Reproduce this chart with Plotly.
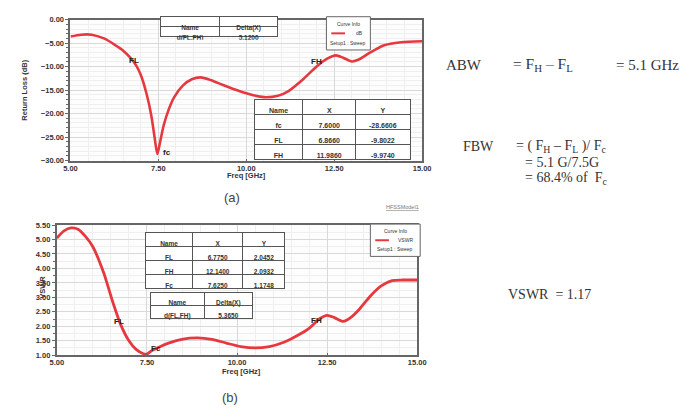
import plotly.graph_objects as go

W, H = 690, 414

# ---------------- data ----------------
rl_freq = [5.0, 5.3, 5.6, 5.95, 6.25, 6.5, 6.7, 6.87, 7.0, 7.17, 7.3, 7.4, 7.47,
           7.55, 7.65, 7.8, 7.95, 8.2, 8.45, 8.7, 9.0, 9.3, 9.8, 10.2, 10.5, 10.9,
           11.2, 11.6, 12.0, 12.3, 12.55, 12.75, 13.0, 13.2, 13.5, 13.9, 14.4, 15.0]
rl_db = [-3.6, -3.2, -3.2, -4.0, -5.3, -6.6, -8.1, -9.8, -11.8, -16.0, -20.5, -25.5, -28.6,
         -26.0, -22.5, -19.0, -16.5, -14.0, -12.7, -12.3, -12.9, -13.8, -15.2, -16.1, -16.5, -16.2,
         -15.2, -12.8, -9.97, -8.3, -7.6, -8.1, -8.9, -8.5, -7.1, -5.5, -4.8, -4.6]

vswr_freq = [5.0, 5.2, 5.4, 5.6, 5.8, 6.0, 6.3, 6.55, 6.775, 7.0, 7.2, 7.4, 7.5, 7.625,
             7.8, 8.1, 8.5, 8.9, 9.3, 9.7, 10.1, 10.5, 10.9, 11.3, 11.7, 12.0, 12.14,
             12.3, 12.5, 12.7, 12.95, 13.15, 13.4, 13.7, 14.0, 14.3, 14.6, 15.0]
vswr_val = [5.05, 5.3, 5.4, 5.35, 5.1, 4.75, 3.85, 2.85, 2.05, 1.5, 1.2, 1.05, 1.04, 1.15,
            1.26, 1.42, 1.56, 1.6, 1.55, 1.42, 1.3, 1.25, 1.3, 1.45, 1.7, 1.93, 2.09,
            2.27, 2.38, 2.3, 2.17, 2.3, 2.6, 3.05, 3.4, 3.58, 3.6, 3.6]

x_ticks = [5.0, 7.5, 10.0, 12.5, 15.0]
rl_ticks = [0, -5, -10, -15, -20, -25, -30]
vswr_ticks = [1.0, 1.5, 2.0, 2.5, 3.0, 3.5, 4.0, 4.5, 5.0, 5.5]

# marker tables
rl_delta_head = ["Name", "Delta(X)"]
rl_delta_rows = [["d(FL,FH)"], ["5.1200"]]
rl_mark_head = ["Name", "X", "Y"]
rl_mark_rows = [["fc", "FL", "FH"], ["7.6000", "6.8660", "11.9860"], ["-28.6606", "-9.8022", "-9.9740"]]

vs_mark_head = ["Name", "X", "Y"]
vs_mark_rows = [["FL", "FH", "Fc"], ["6.7750", "12.1400", "7.6250"], ["2.0452", "2.0932", "1.1748"]]
vs_delta_head = ["Name", "Delta(X)"]
vs_delta_rows = [["d(FL,FH)"], ["5.3650"]]


def px(x):
    return x / W


def py(y):
    return 1 - y / H


RED = "#e5393f"
GRID = "#d9d9d9"
MINOR = "#efefef"
AXC = "#666666"
TXT = "#333333"
SERIF = "Liberation Serif"
SANS = "Liberation Sans"

fig = go.Figure()

fig.add_trace(go.Scatter(x=rl_freq, y=rl_db, mode="lines", xaxis="x", yaxis="y",
                         line=dict(color=RED, width=2.6, shape="spline", smoothing=0.7),
                         showlegend=False, hoverinfo="skip"))
fig.add_trace(go.Scatter(x=vswr_freq, y=vswr_val, mode="lines", xaxis="x2", yaxis="y2",
                         line=dict(color=RED, width=2.8, shape="spline", smoothing=0.7),
                         showlegend=False, hoverinfo="skip"))


def table(head, rows, x0, x1, y0, y1, widths, h, fs=7):
    fig.add_trace(go.Table(
        domain=dict(x=[px(x0), px(x1)], y=[py(y1), py(y0)]),
        columnwidth=widths,
        header=dict(values=head, height=h, fill_color="white",
                    line=dict(color="#555555", width=1),
                    font=dict(family=SANS, size=fs, color=TXT, weight="bold"), align="center"),
        cells=dict(values=rows, height=h, fill_color="white",
                   line=dict(color="#555555", width=1),
                   font=dict(family=SANS, size=fs, color=TXT, weight="bold"), align="center"),
    ))


table(rl_delta_head, rl_delta_rows, 157, 277, 13, 37, [61, 59], 10, 6.5)
table(rl_mark_head, rl_mark_rows, 253, 413, 98, 162, [50, 54, 56], 15)
table(vs_mark_head, vs_mark_rows, 142, 285, 234, 294, [48, 52, 43], 14, 6.5)
table(vs_delta_head, vs_delta_rows, 147, 252, 295, 324, [55, 50], 13, 6.5)

tickfont = dict(family=SANS, size=7.5, color=TXT, weight="bold")
common_x = dict(showline=True, linecolor=AXC, linewidth=2, mirror=True,
                showgrid=True, gridcolor=GRID, gridwidth=1,
                ticks="inside", ticklen=2, tickcolor=AXC, tickfont=tickfont,
                ticklabelstandoff=-1,
                zeroline=False, tickvals=x_ticks, tickformat=".2f",
                minor=dict(dtick=0.5, showgrid=True, gridcolor=MINOR))

fig.update_layout(
    width=W, height=H, autosize=False,
    margin=dict(l=0, r=0, t=0, b=0),
    paper_bgcolor="white", plot_bgcolor="#fdfdfd",
    xaxis=dict(domain=[px(65), px(425)], range=[5, 15], anchor="y", **common_x),
    yaxis=dict(domain=[py(160), py(16)], range=[-30, 0], anchor="x",
               tickvals=rl_ticks, tickformat=".2f",
               showline=True, linecolor=AXC, linewidth=2, mirror=True,
               showgrid=True, gridcolor=GRID, zeroline=False,
               ticks="outside", ticklen=3, tickcolor=AXC, tickfont=tickfont,
               minor=dict(dtick=1, showgrid=True, gridcolor=MINOR, ticks="outside",
                          ticklen=2, tickcolor=AXC)),
    xaxis2=dict(domain=[px(51), px(420)], range=[5, 15], anchor="y2", **common_x),
    yaxis2=dict(domain=[py(359), py(226)], range=[1, 5.5], anchor="x2",
                tickvals=vswr_ticks, tickformat=".2f",
                showline=True, linecolor=AXC, linewidth=2, mirror=True,
                showgrid=True, gridcolor=GRID, zeroline=False,
                ticks="outside", ticklen=3, tickcolor=AXC, tickfont=tickfont,
                minor=dict(dtick=0.25, showgrid=True, gridcolor=MINOR, ticks="outside",
                           ticklen=2, tickcolor=AXC)),
)

ann = []
shapes = []


def ptext(x, y, text, size, family=SANS, color=TXT, anchor="center", weight="normal", angle=0):
    ann.append(dict(xref="paper", yref="paper", x=px(x), y=py(y), text=text, showarrow=False,
                    xanchor=anchor, yanchor="middle", textangle=angle,
                    font=dict(family=family, size=size, color=color, weight=weight)))


# axis titles
ptext(245, 175, "Freq [GHz]", 7.5, weight="bold")
ptext(18, 88, "Return Loss (dB)", 7.5, weight="bold", angle=-90)
ptext(240, 376, "Freq [GHz]", 7.5, weight="bold")
ptext(37, 290, "VSWR", 7.5, weight="bold", angle=-90)


# marker labels on curves
def dtext(xr, yr, x, y, text, xs=0, ys=0):
    ann.append(dict(xref=xr, yref=yr, x=x, y=y, text=text, showarrow=False,
                    xshift=xs, yshift=ys,
                    font=dict(family=SANS, size=8, color="#222222", weight="bold")))


dtext("x", "y", 6.866, -9.8022, "FL", xs=-2, ys=5)
dtext("x", "y", 11.986, -9.974, "FH", xs=0, ys=5)
dtext("x", "y", 7.6, -28.6606, "fc", xs=5, ys=2)
dtext("x2", "y2", 6.775, 2.0452, "FL", xs=-2, ys=3)
dtext("x2", "y2", 7.625, 1.1748, "Fc", xs=5, ys=2)
dtext("x2", "y2", 12.14, 2.0932, "FH", xs=2, ys=3)


# legend boxes
def legend_box(x0, y0, x1, y1, name):
    shapes.append(dict(type="rect", xref="paper", yref="paper", x0=px(x0), x1=px(x1),
                       y0=py(y1), y1=py(y0), line=dict(color="#666666", width=1),
                       fillcolor="white", layer="above"))
    cx = (x0 + x1) / 2
    hh = (y1 - y0)
    ptext(cx, y0 + hh * 0.22, "Curve Info", 5)
    shapes.append(dict(type="line", xref="paper", yref="paper", x0=px(x0 + 5), x1=px(x0 + 19),
                       y0=py(y0 + hh * 0.5), y1=py(y0 + hh * 0.5),
                       line=dict(color=RED, width=2), layer="above"))
    ptext(x1 - 5, y0 + hh * 0.5, name, 5, anchor="right")
    ptext(cx, y0 + hh * 0.78, "Setup1 : Sweep", 5)


legend_box(327, 13, 372, 47, "dB")
legend_box(372, 225, 423, 258, "VSWR")
ptext(405, 208, "<u>HFSSModel1</u>", 5.5, color="#777777")

# panel labels
ptext(230, 198, "(a)", 13, family=SANS, color="#444444")
ptext(228, 402, "(b)", 13, family=SANS, color="#444444")

# right-hand equations
S = 14
ptext(447, 62, "ABW", 15, family=SERIF, anchor="left")
ptext(516, 62, "= F<sub>H</sub> – F<sub>L</sub>", 15.5, family=SERIF, anchor="left")
ptext(621, 62, "= 5.1 GHz", 15, family=SERIF, anchor="left")
ptext(465, 146, "FBW", S, family=SERIF, anchor="left")
ptext(519, 146, "= ( F<sub>H</sub> – F<sub>L</sub> )/ F<sub>c</sub>", S, family=SERIF, anchor="left")
ptext(528, 162, "= 5.1 G/7.5G", S, family=SERIF, anchor="left")
ptext(528, 178, "= 68.4% of  F<sub>c</sub>", S, family=SERIF, anchor="left")
ptext(511, 297, "VSWR  = 1.17", S, family=SERIF, anchor="left")

fig.update_layout(annotations=ann, shapes=shapes)

fig.write_html("out.html", config={"displayModeBar": False},
               post_script="document.body.style.margin='0px';")
